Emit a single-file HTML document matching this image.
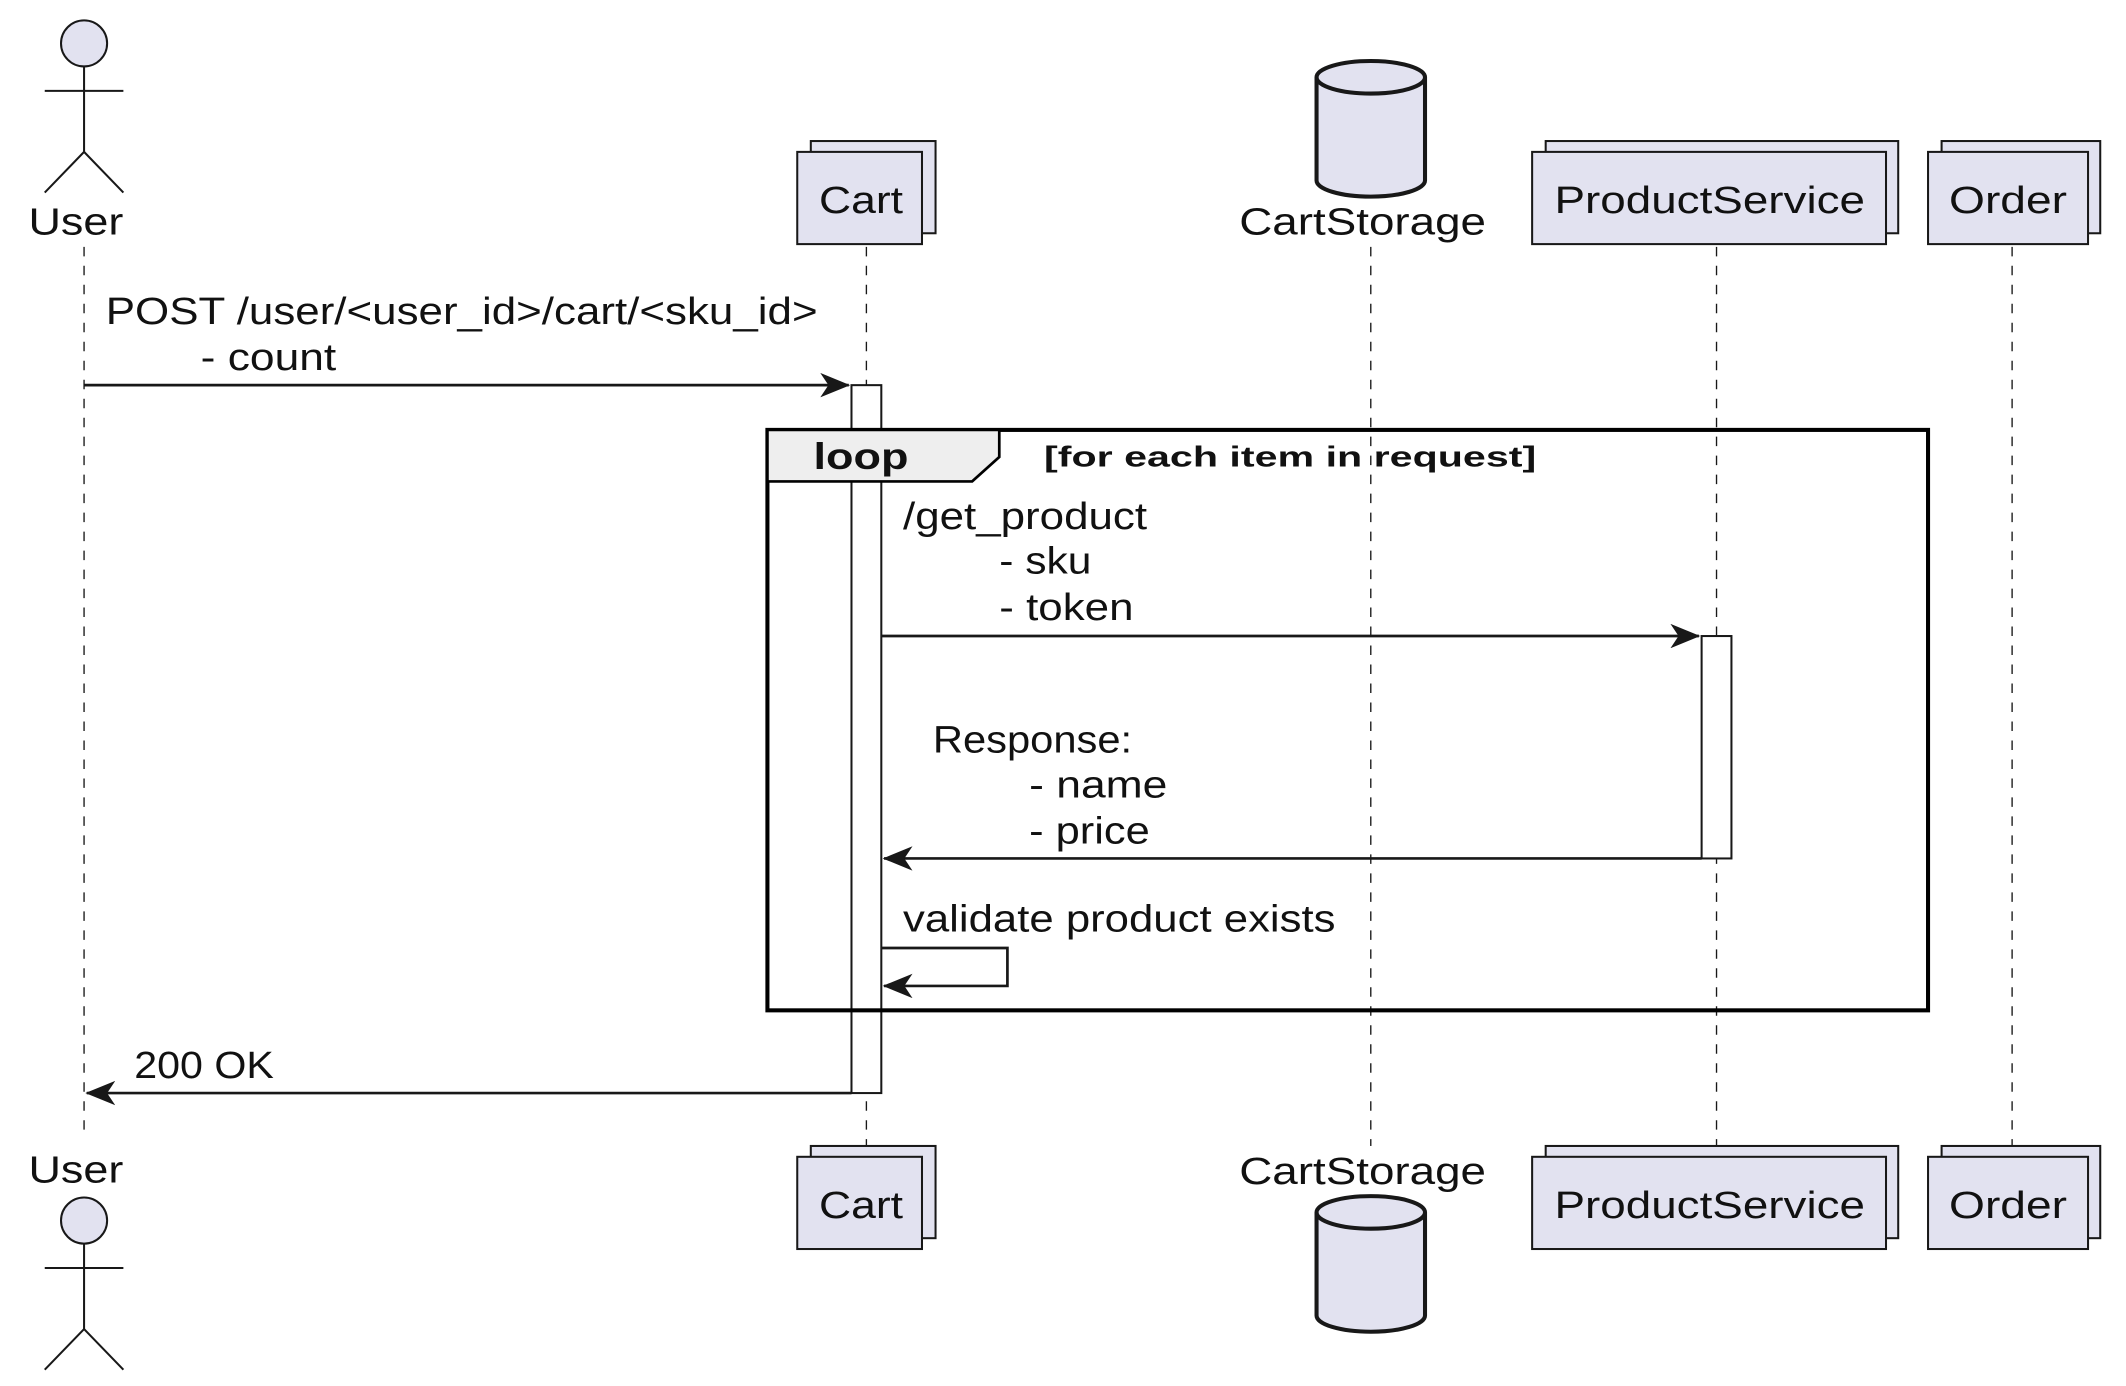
<!DOCTYPE html>
<html><head><meta charset="utf-8"><style>html,body{margin:0;padding:0;background:#fff}svg{display:block}</style></head>
<body>
<svg xmlns="http://www.w3.org/2000/svg" width="2126" height="1386" viewBox="0 0 1568 1022" preserveAspectRatio="none" font-family="Liberation Sans, sans-serif" font-size="28" fill="#111">
<defs>
<g id="actor" fill="#e2e2f0" stroke="#181818" stroke-width="1.5">
<circle cx="0" cy="0" r="17"/>
<line x1="0" y1="17" x2="0" y2="80"/>
<line x1="-29" y1="35" x2="29" y2="35"/>
<line x1="0" y1="80" x2="-29" y2="110"/>
<line x1="0" y1="80" x2="29" y2="110"/>
</g>
<g id="cyl" fill="#e2e2f0" stroke="#181818" stroke-width="3">
<path d="M-40,12 A40,12 0 0 1 40,12 L40,88 A40,12 0 0 1 -40,88 Z"/>
<path d="M-40,12 A40,12 0 0 0 40,12" fill="none"/>
</g>
<marker id="ah" markerWidth="22" markerHeight="18" refX="21" refY="9" orient="auto" markerUnits="userSpaceOnUse"><path d="M0,0 L22,9 L0,18 L6,9 Z" fill="#181818"/></marker>
</defs>
<g stroke="#181818" stroke-width="1" stroke-dasharray="7,7">
<line x1="62" y1="182" x2="62" y2="840"/>
<line x1="639" y1="182" x2="639" y2="845"/>
<line x1="1011" y1="182" x2="1011" y2="845"/>
<line x1="1266" y1="182" x2="1266" y2="845"/>
<line x1="1484" y1="182" x2="1484" y2="845"/>
</g>
<use href="#actor" x="62" y="32"/>
<text x="56" y="173" text-anchor="middle" textLength="70" lengthAdjust="spacingAndGlyphs">User</text>
<g fill="#e2e2f0" stroke="#181818" stroke-width="1.5">
<rect x="598" y="104" width="92" height="68"/><rect x="588" y="112" width="92" height="68"/>
<rect x="1140" y="104" width="260" height="68"/><rect x="1130" y="112" width="261" height="68"/>
<rect x="1432" y="104" width="117" height="68"/><rect x="1422" y="112" width="118" height="68"/>
</g>
<use href="#cyl" x="1011" y="45"/>
<g text-anchor="middle" lengthAdjust="spacingAndGlyphs">
<text x="635" y="157" textLength="62" lengthAdjust="spacingAndGlyphs">Cart</text>
<text x="1005" y="173" textLength="182" lengthAdjust="spacingAndGlyphs">CartStorage</text>
<text x="1261" y="157" textLength="229" lengthAdjust="spacingAndGlyphs">ProductService</text>
<text x="1481" y="157" textLength="87" lengthAdjust="spacingAndGlyphs">Order</text>
</g>
<text x="56" y="872" text-anchor="middle" textLength="70" lengthAdjust="spacingAndGlyphs">User</text>
<use href="#actor" x="62" y="900"/>
<g fill="#e2e2f0" stroke="#181818" stroke-width="1.5">
<rect x="598" y="845" width="92" height="68"/><rect x="588" y="853" width="92" height="68"/>
<rect x="1140" y="845" width="260" height="68"/><rect x="1130" y="853" width="261" height="68"/>
<rect x="1432" y="845" width="117" height="68"/><rect x="1422" y="853" width="118" height="68"/>
</g>
<use href="#cyl" x="1011" y="882"/>
<g text-anchor="middle">
<text x="635" y="898" textLength="62" lengthAdjust="spacingAndGlyphs">Cart</text>
<text x="1005" y="873" textLength="182" lengthAdjust="spacingAndGlyphs">CartStorage</text>
<text x="1261" y="898" textLength="229" lengthAdjust="spacingAndGlyphs">ProductService</text>
<text x="1481" y="898" textLength="87" lengthAdjust="spacingAndGlyphs">Order</text>
</g>
<rect x="628" y="284" width="22" height="522" fill="#fff" stroke="#181818" stroke-width="1.5"/>
<rect x="1255" y="469" width="22" height="164" fill="#fff" stroke="#181818" stroke-width="1.5"/>
<rect x="566" y="317" width="856" height="428" fill="none" stroke="#000" stroke-width="3"/>
<path d="M566,317 L737,317 L737,337 L717,355 L566,355 Z" fill="#eeeeee" stroke="#000" stroke-width="2"/>
<text x="600" y="346" font-weight="bold" font-size="27" textLength="70" lengthAdjust="spacingAndGlyphs">loop</text>
<text x="770" y="344" font-weight="bold" font-size="21" textLength="363" lengthAdjust="spacingAndGlyphs">[for each item in request]</text>
<text x="78" y="239" textLength="525" lengthAdjust="spacingAndGlyphs">POST /user/&lt;user_id&gt;/cart/&lt;sku_id&gt;</text>
<text x="148" y="273" textLength="100" lengthAdjust="spacingAndGlyphs">- count</text>
<line x1="62" y1="284" x2="626" y2="284" stroke="#181818" stroke-width="2" marker-end="url(#ah)"/>
<text x="666" y="390" textLength="180" lengthAdjust="spacingAndGlyphs">/get_product</text>
<text x="737" y="423" textLength="68" lengthAdjust="spacingAndGlyphs">- sku</text>
<text x="737" y="457" textLength="99" lengthAdjust="spacingAndGlyphs">- token</text>
<line x1="650" y1="469" x2="1253" y2="469" stroke="#181818" stroke-width="2" marker-end="url(#ah)"/>
<text x="688" y="555" textLength="147" lengthAdjust="spacingAndGlyphs">Response:</text>
<text x="759" y="588" textLength="102" lengthAdjust="spacingAndGlyphs">- name</text>
<text x="759" y="622" textLength="89" lengthAdjust="spacingAndGlyphs">- price</text>
<line x1="1255" y1="633" x2="652" y2="633" stroke="#181818" stroke-width="2" marker-end="url(#ah)"/>
<text x="666" y="687" textLength="319" lengthAdjust="spacingAndGlyphs">validate product exists</text>
<polyline points="650,699 743,699 743,727 652,727" fill="none" stroke="#181818" stroke-width="2" marker-end="url(#ah)"/>
<text x="99" y="795" textLength="103" lengthAdjust="spacingAndGlyphs">200 OK</text>
<line x1="628" y1="806" x2="64" y2="806" stroke="#181818" stroke-width="2" marker-end="url(#ah)"/>
</svg>
</body></html>
